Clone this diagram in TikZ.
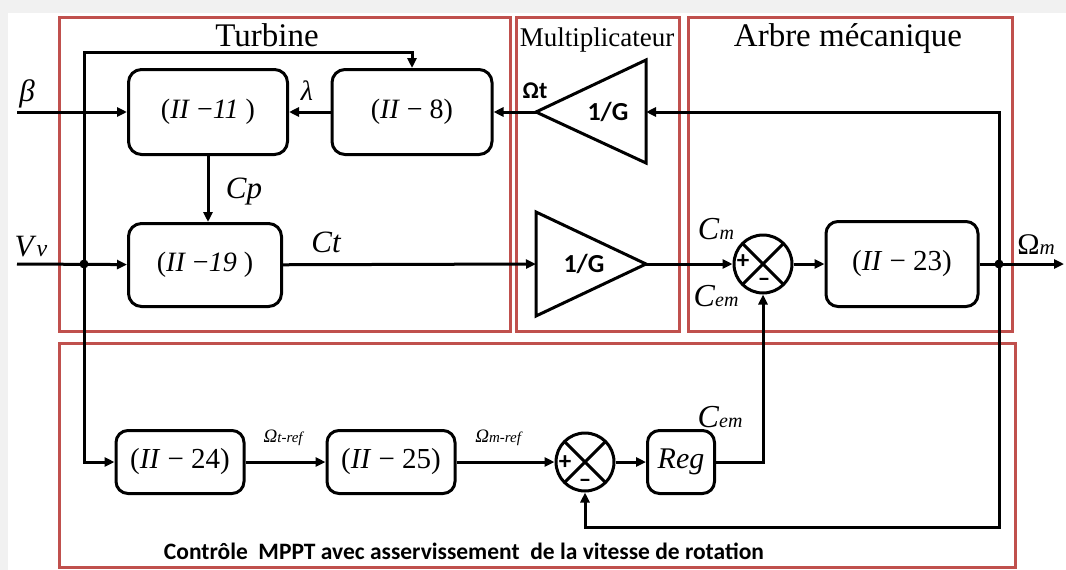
\documentclass[tikz,border=0pt]{standalone}
\usepackage{fontspec}
\setmainfont{Liberation Serif}
\newfontfamily\calfont{Carlito}
\usetikzlibrary{arrows.meta}
\definecolor{frred}{RGB}{192,80,77}
\definecolor{shadegray}{RGB}{241,241,241}
\newcommand{\fsz}[1]{\fontsize{#1}{#1}\selectfont}
\newcommand{\eqnum}[1]{(\textit{II} − #1)}

\begin{document}
\begin{tikzpicture}[x=1pt,y=-1pt,line width=3pt,>={Triangle[length=10pt,width=9pt]},
  blockbox/.style={draw,rounded corners=13pt,inner sep=0pt,font=\fsz{28}},
  lowbox/.style={blockbox,rounded corners=12pt,font=\fsz{29}},
  frame/.style={draw=frred,line width=3pt},
  gain/.style={draw,line join=miter},
  gainlabel/.style={font=\calfont\bfseries\fsz{26}},
  sumjunc/.style={draw,circle,minimum size=58pt,inner sep=0pt,
    path picture={\draw[line width=3pt] (path picture bounding box.north west) -- (path picture bounding box.south east)
      (path picture bounding box.north east) -- (path picture bounding box.south west);}},
  sgn/.style={font=\calfont\bfseries\fsz{25},inner sep=0pt},
  dot/.style={circle,fill,inner sep=0pt,minimum size=9pt},
  sig/.style={inner sep=0pt,anchor=base},
  title/.style={inner sep=0pt,anchor=base}]
  \useasboundingbox (0,0) rectangle (1066,570);
  \fill[shadegray] (0,0) rectangle (1066,13);
  \fill[shadegray] (0,0) rectangle (8,570);

  \draw[frame] (59,17) rectangle (510,331);
  \draw[frame] (516,17) rectangle (679,331);
  \draw[frame] (688,17) rectangle (1012,331);
  \draw[frame] (59,343) rectangle (1015,567);
  \node[title,font=\fsz{33}] (turbtitle) at (267,46) {Turbine};
  \node[title,font=\fsz{27}] (multtitle) at (597,46) {Multiplicateur};
  \node[title,font=\fsz{33}] (arbretitle) at (848,46) {Arbre mécanique};

  \node[blockbox,minimum width=159pt,minimum height=85pt] (II11) at (208,112) {(\textit{II} −\textit{11} )};
  \node[blockbox,minimum width=160pt,minimum height=85pt] (II8) at (412,112) {\eqnum{8}};
  \node[blockbox,minimum width=153pt,minimum height=83pt] (II19) at (205,265) {(\textit{II} −\textit{19} )};
  \node[lowbox,minimum width=152pt,minimum height=85pt] (II23) at (902,264) {\eqnum{23}};
  \node[lowbox,minimum width=128pt,minimum height=63pt] (II24) at (180,462) {\eqnum{24}};
  \node[lowbox,minimum width=128pt,minimum height=63pt] (II25) at (391,462) {\eqnum{25}};
  \node[lowbox,minimum width=67pt,minimum height=63pt,font=\fsz{30}] (Reg) at (681,462) {\textit{Reg}};
  \node[sumjunc] (S1) at (763,264) {};
  \node[sumjunc] (S2) at (585,462) {};
  \node[sgn] (S1plus) at ([shift={(-20,-2)}]S1.center) {+};
  \node[sgn] (S1minus) at ([shift={(1,18)}]S1.center) {–};
  \node[sgn] (S2plus) at ([shift={(-20,1)}]S2.center) {+};
  \node[sgn] (S2minus) at ([shift={(0,21)}]S2.center) {–};

  \coordinate (g1tip) at (536,112);
  \coordinate (g1top) at (646,60);
  \coordinate (g1bot) at (646,163);
  \coordinate (g1in) at (646,112);
  \draw[gain] (g1tip) -- (g1top) -- (g1bot) -- cycle;
  \node[gainlabel] (G1) at (608,112) {1/G};
  \coordinate (g2tip) at (646,264);
  \coordinate (g2top) at (536,212);
  \coordinate (g2bot) at (536,316);
  \coordinate (g2in) at (536,264);
  \draw[gain] (g2tip) -- (g2top) -- (g2bot) -- cycle;
  \node[gainlabel] (G2) at (584,264) {1/G};

  \coordinate (betain) at (17,112);
  \coordinate (vvin) at (17,264);
  \coordinate (loopup) at (84,52);
  \coordinate (omout) at (1064,264);
  \coordinate (fbcorner) at (999,527);
  \node[dot] (vvdot) at (84,264) {};
  \node[dot] (omdot) at (999,264) {};

  \draw[->] (betain) -- (II11);
  \draw[->] (II8) -- (II11);
  \draw[->] (g1tip) -- (II8);
  \draw[->] (II11.south) -- (II11.south |- II19.north);
  \draw[->] (vvin) -- (II19);
  \draw[->] (vvdot.center) -- (loopup) -| (II8.north);
  \draw[->] (vvdot.center) |- (II24);
  \draw[->] (II19) -- (g2in);
  \draw[->] (g2tip) -- (S1);
  \draw[->] (S1) -- (II23);
  \draw[->] (II23) -- (omout);
  \draw[->] (omdot.center) |- (g1in);
  \draw[->] (omdot.center) -- (fbcorner) -| (S2.south);
  \draw[->] (II24) -- (II25);
  \draw[->] (II25) -- (S2);
  \draw[->] (S2) -- (Reg);
  \draw[->] (Reg) -| (S1.south);

  \node[sig,font=\fsz{31}\itshape] (beta) at (27,101) {β};
  \node[sig,font=\fsz{28}\itshape] (lambda) at (307,100) {λ};
  \node[sig,font=\fsz{31}\itshape] (Cp) at (244,198) {Cp};
  \node[sig,font=\fsz{31}\itshape] (Ct) at (326,252) {Ct};
  \node[sig] (Vv) at (31,256) {\fsz{31}\textit{V}\fsz{24}\textit{v}};
  \node[sig,font=\calfont\bfseries\fsz{24}] (Omt) at (535,98) {Ωt};
  \node[sig] (Cm) at (716,239) {\fsz{32}\textit{C}\fsz{20}\textit{m}};
  \node[sig] (Cem) at (716,306) {\fsz{32}\textit{C}\fsz{20}\textit{em}};
  \node[sig] (Omm) at (1036,254) {\fsz{30}Ω\fsz{21}\textit{m}};
  \node[sig] (Cemreg) at (720,427) {\fsz{32}\textit{C}\fsz{20}\textit{em}};
  \node[sig] (Omtref) at (284,442) {\fsz{19}\textit{Ω}\fsz{15}\textit{t-ref}};
  \node[sig] (Ommref) at (499,442) {\fsz{19}\textit{Ω}\fsz{15}\textit{m-ref}};
  \node[font=\calfont\bfseries\fsz{23.5}] (caption) at (464,551) {Contrôle\ \ MPPT avec asservissement\ \ de la vitesse de rotation};
\end{tikzpicture}
\end{document}
